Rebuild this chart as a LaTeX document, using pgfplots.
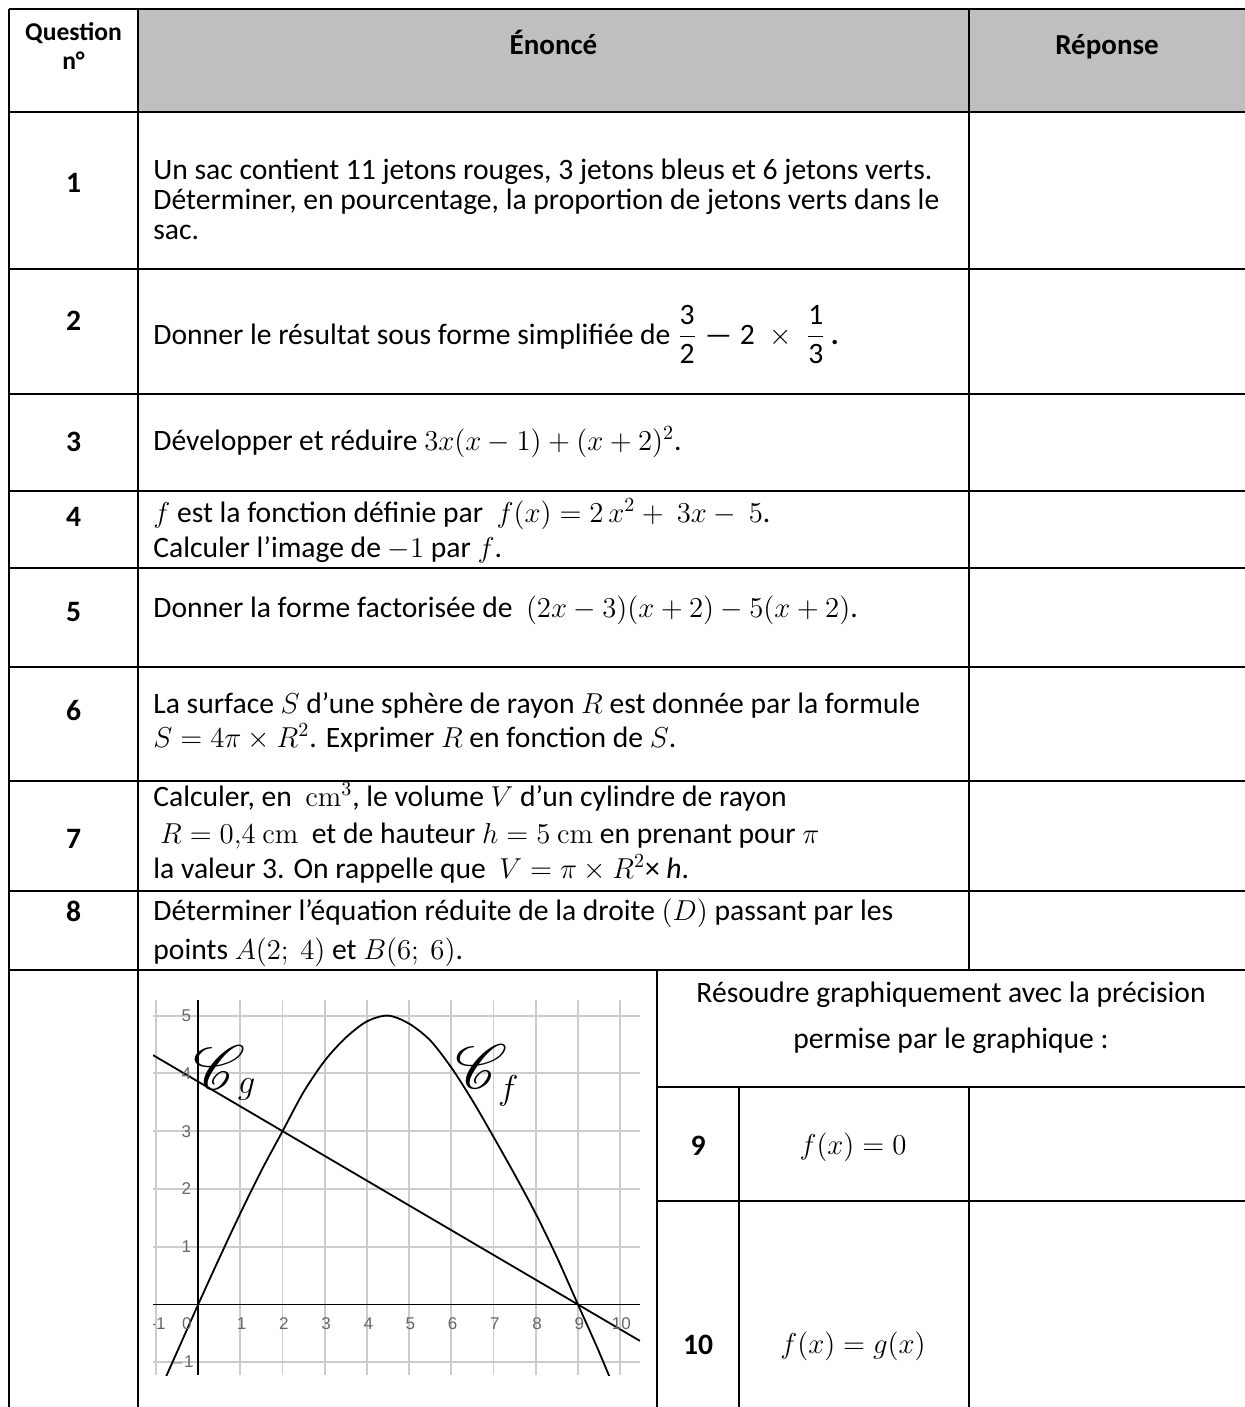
\documentclass[border=0pt]{standalone}
\usepackage{amsmath}
\usepackage{mathrsfs}
\usepackage[no-math]{fontspec}
\setmainfont{Carlito}
\newfontfamily\arialf{Liberation Sans}
\usepackage{graphicx}
\usepackage{pgfplots}
\pgfplotsset{compat=1.18}
\definecolor{hdr}{RGB}{191,191,191}
\newcommand\T{\fontsize{14.8}{17}\selectfont}
\newcommand\HD{\fontsize{14.5}{16}\selectfont\bfseries}
\newcommand\HQ{\fontsize{12.8}{15}\selectfont\bfseries}
\newcommand\TK{\arialf\fontsize{8.5}{9}\selectfont}
\begin{document}
\begin{tikzpicture}
\useasboundingbox (0,0) rectangle (622.5pt,-703.5pt);
\begin{scope}[x=0.5pt,y=-0.5pt,
  tx/.style={anchor=base west,inner sep=0pt,font=\T},
  tc/.style={anchor=base,inner sep=0pt,font=\T},
  nb/.style={anchor=base,inner sep=0pt,font=\T\bfseries},
  hb/.style={anchor=base,inner sep=0pt,font=\HD},
  hq/.style={anchor=base,inner sep=0pt,font=\HQ}]
\clip (0,0) rectangle (1245,1407);
\fill[hdr] (138,9) rectangle (1248,112);
\begin{scope}[line width=1.4pt]
\draw (9,9) -- (9,1420);
\draw (138,9) -- (138,1420);
\draw (969,9) -- (969,970);
\draw (969,1087) -- (969,1420);
\draw (1248,9) -- (1248,1420);
\draw (657,970) -- (657,1420);
\draw (739,1087) -- (739,1420);
\foreach \yy in {9,112,269,394,491,568,667,781,891,970} {\draw (9,\yy) -- (1248,\yy);}
\draw (657,1087) -- (1248,1087);
\draw (657,1201) -- (1248,1201);
\end{scope}
% header
\node[hq] at (73.5,41) {Question};
\node[hq] at (73.5,70) {n°};
\node[hb] at (553.5,55) {Énoncé};
\node[hb] at (1107,55) {Réponse};
% numbers
\node[nb] at (73.5,193) {1};
\node[nb] at (73.5,330) {2};
\node[nb] at (73.5,451) {3};
\node[nb] at (73.5,526) {4};
\node[nb] at (73.5,621) {5};
\node[nb] at (73.5,720) {6};
\node[nb] at (73.5,848) {7};
\node[nb] at (73.5,921) {8};
\node[nb] at (698,1155) {9};
\node[nb] at (698,1354) {10};
% row texts
\node[tx] at (153,180) {Un sac contient 11 jetons rouges, 3 jetons bleus et 6 jetons verts.};
\node[tx] at (153,210) {Déterminer, en pourcentage, la proportion de jetons verts dans le};
\node[tx] at (153,240) {sac.};
\node[tx] at (153,344) {Donner le résultat sous forme simplifiée de $\dfrac{\text{3}}{\text{2}}\;\text{—}\;\text{2}\;\times\;\dfrac{\text{1}}{\text{3}}$\,\textbf{.}};
\node[tx] at (153,450) {Développer et réduire $3x(x-1)+(x+2)^2$.};
\node[tx] at (153,522) {$f$ est la fonction définie par \ $f(x)=2\,x^2+\ 3x-\ 5$.};
\node[tx] at (153,557) {Calculer l'image de $-1$ par $f$.};
\node[tx] at (153,617) {Donner la forme factorisée de \ $(2x-3)(x+2)-5(x+2)$.};
\node[tx] at (153,713) {La surface $S$ d'une sphère de rayon $R$ est donnée par la formule};
\node[tx] at (153,747) {$S=4\pi\times R^2$. Exprimer $R$ en fonction de $S$.};
\node[tx] at (153,806) {Calculer, en \ $\mathrm{cm}^3$, le volume $V$ d'un cylindre de rayon};
\node[tx] at (153,843) {\ $R=0{,}4\ \mathrm{cm}$ \ et de hauteur $h=5\ \mathrm{cm}$ en prenant pour $\pi$};
\node[tx] at (153,878) {la valeur 3. On rappelle que \ $V=\pi\times R^2$× \textit{h}.};
\node[tx] at (153,920) {Déterminer l'équation réduite de la droite $(D)$ passant par les};
\node[tx] at (153,959) {points $A(2;\ 4)$ et $B(6;\ 6)$.};
% right part
\node[tc] at (951,1002) {Résoudre graphiquement avec la précision};
\node[tc] at (951,1048) {permise par le graphique :};
\node[tc] at (853,1154) {$f(x)=0$};
\node[tc] at (853,1353) {$f(x)=g(x)$};
\end{scope}
\begin{axis}[
  at={(76.5pt,-687.5pt)}, anchor=south west,
  scale only axis, width=243.5pt, height=187.5pt,
  xmin=-1.07, xmax=10.47, ymin=-1.22, ymax=5.27,
  axis lines=middle, axis line style={-, line width=0.9pt, black},
  xtick={-1,0,...,10}, ytick={-1,0,...,5},
  xticklabels={}, yticklabels={},
  major tick length=0pt,
  grid=major, grid style={line width=0.9pt, color=black!20},
  clip=true,
]
\addplot[black, line width=0.9pt, smooth] coordinates {
(-1,-1.64) (-0.5,-0.82) (0,0) (0.5,0.8) (1,1.58) (1.5,2.32) (2,3.0) (2.5,3.68) (3,4.22) (3.5,4.62) (4,4.9) (4.5,5.0) (5,4.86) (5.5,4.57) (6,4.1) (6.5,3.53) (7,2.9) (7.5,2.25) (8,1.57) (8.5,0.82) (9,0) (9.5,-0.82) (10,-1.7)};
\addplot[black, line width=0.9pt] coordinates {(-1.07,4.316) (10.47,-0.63)};
\node[font=\TK, text=black!60] at (axis cs:-0.95,-0.33) {-1};
\node[font=\TK, text=black!60] at (axis cs:-0.27,-0.33) {0};
\node[font=\TK, text=black!60] at (axis cs:1.03,-0.33) {1};
\node[font=\TK, text=black!60] at (axis cs:2.03,-0.33) {2};
\node[font=\TK, text=black!60] at (axis cs:3.03,-0.33) {3};
\node[font=\TK, text=black!60] at (axis cs:4.03,-0.33) {4};
\node[font=\TK, text=black!60] at (axis cs:5.03,-0.33) {5};
\node[font=\TK, text=black!60] at (axis cs:6.03,-0.33) {6};
\node[font=\TK, text=black!60] at (axis cs:7.03,-0.33) {7};
\node[font=\TK, text=black!60] at (axis cs:8.03,-0.33) {8};
\node[font=\TK, text=black!60] at (axis cs:9.03,-0.33) {9};
\node[font=\TK, text=black!60] at (axis cs:10.03,-0.33) {10};
\node[font=\TK, text=black!60] at (axis cs:-0.28,5) {5};
\node[font=\TK, text=black!60] at (axis cs:-0.28,4) {4};
\node[font=\TK, text=black!60] at (axis cs:-0.28,3) {3};
\node[font=\TK, text=black!60] at (axis cs:-0.28,2) {2};
\node[font=\TK, text=black!60] at (axis cs:-0.28,1) {1};
\node[font=\TK, text=black!60] at (axis cs:-0.38,-1) {$-$1};
\node[scale=1.5, inner sep=0pt] at (axis cs:0.51,4.09) {\fontsize{20}{22}\selectfont$\mathscr{C}$};
\node[inner sep=0pt] at (axis cs:1.15,3.72) {\fontsize{17}{19}\selectfont$g$};
\node[scale=1.5, inner sep=0pt] at (axis cs:6.72,4.12) {\fontsize{20}{22}\selectfont$\mathscr{C}$};
\node[inner sep=0pt] at (axis cs:7.35,3.69) {\fontsize{17}{19}\selectfont$f$};
\end{axis}
\end{tikzpicture}
\end{document}
